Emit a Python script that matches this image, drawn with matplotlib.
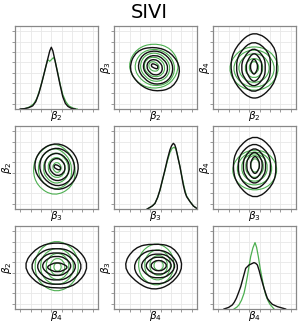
import numpy as np
import matplotlib
matplotlib.use("Agg")
import matplotlib.pyplot as plt
from matplotlib.path import Path
from matplotlib.patches import PathPatch

# ---- values (axis units 0..8, no tick labels) ----
labels = [r"$\beta_2$", r"$\beta_3$", r"$\beta_4$"]

# diagonal densities: x, y for black (reference) and green (SIVI)
kde_b2_x_black = [0.5, 0.9, 1.3, 1.7, 2.0, 2.3, 2.6, 2.9, 3.15, 3.35, 3.5, 3.65, 3.85, 4.1, 4.35, 4.6, 4.85, 5.1, 5.4, 5.8]
kde_b2_y_black = [0.0, 0.03, 0.12, 0.3, 0.7, 1.5, 2.6, 3.8, 4.8, 5.6, 5.95, 5.6, 4.7, 3.5, 2.3, 1.2, 0.55, 0.25, 0.08, 0.0]
kde_b2_x_green = [0.6, 1.0, 1.4, 1.8, 2.1, 2.4, 2.7, 3.0, 3.15, 3.35, 3.5, 3.7, 3.85, 4.1, 4.35, 4.6, 4.9, 5.2, 5.6, 6.0]
kde_b2_y_green = [0.0, 0.05, 0.2, 0.5, 1.0, 1.9, 3.0, 4.2, 4.75, 4.6, 4.75, 4.95, 4.7, 3.6, 2.4, 1.4, 0.7, 0.3, 0.08, 0.0]

kde_b3_x_black = [3.2, 3.47, 3.7, 3.95, 4.2, 4.43, 4.67, 4.91, 5.15, 5.39, 5.55, 5.72, 5.85, 5.97, 6.15, 6.36, 6.52, 6.68, 6.85, 7.0, 7.33, 7.65, 7.97]
kde_b3_y_black = [0.0, 0.16, 0.3, 0.54, 1.1, 1.83, 2.8, 3.76, 4.8, 5.69, 6.1, 6.33, 6.2, 5.85, 5.0, 4.08, 3.2, 2.31, 1.6, 1.19, 0.7, 0.29, 0.06]
kde_b3_x_green = [3.2, 3.47, 3.7, 3.95, 4.2, 4.43, 4.67, 4.91, 5.15, 5.39, 5.6, 5.8, 5.95, 6.1, 6.25, 6.4, 6.55, 6.7, 6.85, 7.0, 7.33, 7.65, 7.97]
kde_b3_y_green = [0.0, 0.15, 0.3, 0.55, 1.1, 1.8, 2.75, 3.7, 4.65, 5.45, 5.85, 5.95, 5.8, 5.3, 4.6, 3.85, 3.1, 2.4, 1.75, 1.25, 0.72, 0.3, 0.07]

kde_b4_x_black = [1.06, 1.5, 1.86, 2.05, 2.25, 2.45, 2.67, 2.9, 3.15, 3.47, 3.7, 3.95, 4.12, 4.28, 4.45, 4.6, 4.76, 4.92, 5.08, 5.24, 5.48, 5.72, 6.2, 7.0]
kde_b4_y_black = [0.0, 0.15, 0.39, 0.65, 1.03, 1.55, 2.15, 3.0, 3.92, 4.24, 4.35, 4.47, 4.4, 4.24, 3.7, 3.12, 2.55, 1.99, 1.5, 1.03, 0.7, 0.45, 0.23, 0.0]
kde_b4_x_green = [2.03, 2.3, 2.5, 2.75, 2.99, 3.15, 3.31, 3.47, 3.63, 3.85, 4.05, 4.2, 4.37, 4.55, 4.76, 4.92, 5.08, 5.28, 5.47, 5.88]
kde_b4_y_green = [0.0, 0.18, 0.39, 0.85, 1.51, 2.25, 3.12, 4.1, 5.05, 5.9, 6.4, 5.95, 5.05, 3.9, 2.8, 2.0, 1.35, 0.85, 0.48, 0.0]

# off-diagonal contours: (cx, cy, radii at 0,45,...,315 deg)
b2_b3_black = [(3.92, 4.12, [0.32, 0.17, 0.18, 0.36, 0.32, 0.17, 0.18, 0.36]),
               (3.92, 4.02, [0.75, 0.66, 0.75, 0.82, 0.75, 0.66, 0.75, 0.82]),
               (3.99, 4.02, [1.2, 1.08, 1.15, 1.22, 1.18, 1.05, 1.15, 1.25]),
               (4.0, 4.0, [1.7, 1.55, 1.6, 1.72, 1.68, 1.5, 1.62, 1.75]),
               (3.92, 3.86, [2.45, 2.15, 2.05, 2.4, 2.4, 2.05, 2.1, 2.45])]
b2_b3_green = [(3.85, 4.1, [0.5, 0.4, 0.45, 0.55, 0.5, 0.42, 0.45, 0.55]),
               (3.9, 4.05, [1.0, 0.9, 0.95, 1.05, 1.0, 0.88, 0.95, 1.05]),
               (3.95, 4.05, [1.45, 1.3, 1.35, 1.45, 1.42, 1.3, 1.4, 1.5]),
               (3.93, 4.0, [1.95, 1.8, 1.75, 1.9, 1.95, 1.72, 1.75, 1.95]),
               (3.83, 4.15, [2.4, 2.3, 2.1, 2.25, 2.4, 2.2, 2.15, 2.3])]

b2_b4_black = [(3.95, 4.08, [0.32, 0.42, 0.8, 0.42, 0.32, 0.42, 0.8, 0.42]),
               (3.95, 4.0, [0.72, 0.95, 1.45, 0.88, 0.72, 0.88, 1.45, 0.95]),
               (3.9, 4.0, [1.1, 1.4, 1.9, 1.3, 1.12, 1.3, 1.9, 1.4]),
               (3.9, 4.05, [1.6, 2.0, 2.5, 1.85, 1.62, 1.85, 2.5, 1.95]),
               (3.95, 4.15, [2.15, 2.7, 3.3, 2.45, 2.2, 2.45, 3.3, 2.6])]
b2_b4_green = [(3.95, 4.0, [0.45, 0.5, 0.6, 0.5, 0.45, 0.5, 0.6, 0.5]),
               (3.95, 3.95, [0.85, 0.9, 0.95, 0.88, 0.85, 0.88, 0.95, 0.9]),
               (3.95, 3.95, [1.5, 1.45, 1.4, 1.42, 1.5, 1.42, 1.4, 1.45]),
               (3.95, 3.9, [2.0, 1.9, 1.8, 1.85, 2.0, 1.85, 1.8, 1.9]),
               (3.95, 3.9, [2.4, 2.25, 2.1, 2.2, 2.4, 2.2, 2.1, 2.25])]

b3_b2_black = [(4.08, 4.02, [0.32, 0.17, 0.2, 0.36, 0.32, 0.17, 0.2, 0.36]),
               (4.08, 4.05, [0.75, 0.72, 0.85, 0.82, 0.75, 0.72, 0.85, 0.82]),
               (4.05, 4.05, [1.2, 1.2, 1.35, 1.3, 1.2, 1.2, 1.35, 1.3]),
               (4.05, 4.05, [1.7, 1.7, 1.85, 1.8, 1.68, 1.65, 1.85, 1.8]),
               (4.02, 4.08, [2.1, 2.1, 2.25, 2.2, 2.15, 2.0, 2.25, 2.2])]
b3_b2_green = [(4.05, 4.0, [0.4, 0.4, 0.5, 0.45, 0.4, 0.4, 0.5, 0.45]),
               (4.0, 4.0, [0.8, 0.85, 1.0, 0.9, 0.8, 0.85, 1.0, 0.95]),
               (3.95, 3.95, [1.2, 1.25, 1.5, 1.3, 1.2, 1.3, 1.5, 1.4]),
               (3.85, 3.9, [1.6, 1.65, 2.0, 1.7, 1.6, 1.75, 2.0, 1.9]),
               (3.78, 3.84, [2.0, 2.1, 2.5, 2.1, 2.0, 2.2, 2.5, 2.35])]

b3_b4_black = [(4.05, 4.24, [0.4, 0.52, 0.9, 0.52, 0.4, 0.52, 0.9, 0.52]),
               (4.0, 4.2, [0.72, 0.9, 1.37, 0.9, 0.72, 0.9, 1.37, 0.9]),
               (4.0, 4.15, [1.05, 1.28, 1.77, 1.28, 1.05, 1.28, 1.77, 1.28]),
               (4.0, 4.1, [1.53, 1.8, 2.25, 1.8, 1.55, 1.8, 2.25, 1.8]),
               (4.04, 4.0, [2.0, 2.4, 3.1, 2.4, 2.05, 2.3, 3.0, 2.35])]
b3_b4_green = [(4.05, 4.2, [0.4, 0.5, 0.7, 0.5, 0.4, 0.5, 0.7, 0.5]),
               (4.0, 4.1, [0.85, 0.95, 1.1, 0.95, 0.85, 0.95, 1.1, 0.95]),
               (4.0, 4.0, [1.25, 1.3, 1.35, 1.3, 1.25, 1.3, 1.35, 1.3]),
               (4.0, 3.9, [1.7, 1.65, 1.6, 1.6, 1.7, 1.65, 1.6, 1.65]),
               (4.03, 3.76, [2.17, 2.05, 1.93, 2.0, 2.2, 2.05, 1.93, 2.05])]

b4_b2_black = [(4.08, 4.02, [1.05, 0.53, 0.4, 0.53, 1.05, 0.53, 0.4, 0.53]),
               (4.02, 4.15, [1.45, 1.08, 0.9, 1.08, 1.45, 1.08, 0.9, 1.08]),
               (4.0, 4.1, [1.93, 1.52, 1.29, 1.52, 1.93, 1.52, 1.29, 1.52]),
               (4.0, 4.1, [2.5, 2.0, 1.7, 2.0, 2.5, 2.0, 1.7, 2.0]),
               (3.94, 4.16, [3.13, 2.55, 2.17, 2.45, 3.07, 2.4, 2.1, 2.6])]
b4_b2_green = [(4.1, 4.05, [0.35, 0.38, 0.42, 0.38, 0.35, 0.38, 0.42, 0.38]),
               (4.1, 4.05, [0.7, 0.77, 0.85, 0.77, 0.7, 0.77, 0.85, 0.77]),
               (4.1, 4.1, [1.1, 1.2, 1.3, 1.2, 1.1, 1.2, 1.3, 1.2]),
               (4.05, 4.1, [1.6, 1.68, 1.78, 1.68, 1.6, 1.68, 1.78, 1.68]),
               (4.02, 4.13, [2.09, 2.25, 2.46, 2.25, 2.09, 2.25, 2.46, 2.25])]

b4_b3_black = [(4.31, 4.18, [0.8, 0.58, 0.48, 0.58, 0.8, 0.58, 0.48, 0.58]),
               (4.31, 4.18, [1.29, 0.96, 0.8, 0.96, 1.29, 0.96, 0.8, 0.96]),
               (4.25, 4.15, [1.69, 1.33, 1.13, 1.33, 1.69, 1.33, 1.13, 1.33]),
               (4.05, 4.05, [2.17, 1.83, 1.61, 1.83, 2.17, 1.83, 1.61, 1.83]),
               (3.83, 4.1, [2.8, 2.6, 2.1, 2.5, 2.85, 2.15, 2.2, 2.3])]
b4_b3_green = [(4.3, 4.2, [0.45, 0.47, 0.5, 0.47, 0.45, 0.47, 0.5, 0.47]),
               (4.3, 4.2, [0.85, 0.92, 1.0, 0.92, 0.85, 0.92, 1.0, 0.92]),
               (4.2, 4.25, [1.25, 1.36, 1.5, 1.36, 1.25, 1.36, 1.5, 1.36]),
               (4.07, 4.29, [1.7, 1.85, 2.04, 1.85, 1.7, 1.85, 2.04, 1.85])]

GREEN = "#4caf50"
BLACK = "#111111"


def contour_path(cx, cy, radii):
    # smooth closed curve (quadratic B-spline) through the read-off radii
    ang = np.deg2rad(np.arange(0, 360, 45))
    r = np.asarray(radii) * 1.06
    pts = np.column_stack([cx + r * np.cos(ang), cy + r * np.sin(ang)])
    mids = (pts + np.roll(pts, -1, axis=0)) / 2
    verts = [mids[-1]]
    codes = [Path.MOVETO]
    for p, m in zip(pts, mids):
        verts += [p, m]
        codes += [Path.CURVE3, Path.CURVE3]
    return Path(verts, codes)


def draw_contours(ax, levels, color, lw):
    for cx, cy, radii in levels:
        ax.add_patch(PathPatch(contour_path(cx, cy, radii), fill=False,
                               edgecolor=color, lw=lw, joinstyle="round"))


fig = plt.figure(figsize=(2.99, 3.23), dpi=100)
W, H = 299.0, 323.0
lefts = [15, 114, 213]
tops = [26, 126, 226]
size = 83

kdes = {0: (kde_b2_x_black, kde_b2_y_black, kde_b2_x_green, kde_b2_y_green),
        1: (kde_b3_x_black, kde_b3_y_black, kde_b3_x_green, kde_b3_y_green),
        2: (kde_b4_x_black, kde_b4_y_black, kde_b4_x_green, kde_b4_y_green)}
pairs = {(0, 1): (b2_b3_black, b2_b3_green), (0, 2): (b2_b4_black, b2_b4_green),
         (1, 0): (b3_b2_black, b3_b2_green), (1, 2): (b3_b4_black, b3_b4_green),
         (2, 0): (b4_b2_black, b4_b2_green), (2, 1): (b4_b3_black, b4_b3_green)}
# (row, col): y label index for the off-diagonal panels
ylab = {(0, 1): 1, (0, 2): 2, (1, 0): 0, (1, 2): 2, (2, 0): 0, (2, 1): 1}

for i in range(3):
    for j in range(3):
        ax = fig.add_axes([lefts[j] / W, 1 - (tops[i] + size) / H, size / W, size / H])
        ax.set_xlim(0, 8)
        ax.set_ylim(0, 8)
        ax.set_xticks(np.arange(0.5, 8, 1))
        ax.set_yticks(np.arange(0.5, 8, 1))
        ax.grid(True, color="#e8e8e8", lw=0.6)
        ax.set_axisbelow(True)
        ax.tick_params(length=2, width=0.6, color="#888888",
                       labelleft=False, labelbottom=False, pad=1)
        for s in ax.spines.values():
            s.set_color("#888888")
            s.set_linewidth(0.9)
        if i == j:
            xb, yb, xg, yg = kdes[i]
            ax.plot(xg, yg, color=GREEN, lw=0.9)
            ax.plot(xb, yb, color=BLACK, lw=1.0)
        else:
            blk, grn = pairs[(i, j)]
            draw_contours(ax, grn, GREEN, 0.8)
            draw_contours(ax, blk, BLACK, 1.0)
            ax.set_ylabel(labels[ylab[(i, j)]], fontsize=7.5, labelpad=-1.5)
        ax.set_xlabel(labels[i], fontsize=7.5, labelpad=-2)

fig.text(0.5, 1 - 12.5 / H, "SIVI", ha="center", va="center", fontsize=14)
fig.savefig("out.png", dpi=100)
